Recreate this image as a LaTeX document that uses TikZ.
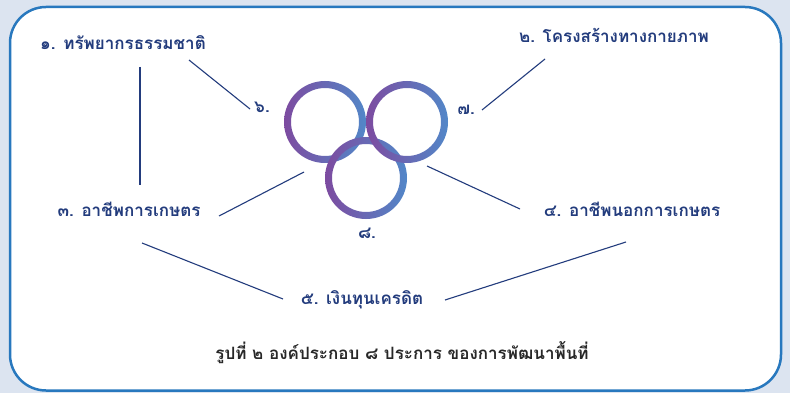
\documentclass[tikz,border=0pt]{standalone}
\usepackage{fontspec}
\newfontfamily\thaifont[Script=Thai]{Loma}
\usetikzlibrary{calc}
\definecolor{labelnavy}{RGB}{35,60,125}
\definecolor{frameblue}{RGB}{40,120,190}
\definecolor{pagebg}{RGB}{220,228,240}
\definecolor{ringpurple}{RGB}{125,75,160}
\definecolor{ringblue}{RGB}{82,135,200}
\definecolor{capgray}{RGB}{40,40,40}
\tikzset{
  item/.style    = {font=\thaifont\bfseries\fontsize{17}{19}\selectfont, text=labelnavy, inner sep=2pt, text height=14pt, text depth=5pt},
  num/.style     = {item},
  caption/.style = {item, text=capgray, font=\thaifont\bfseries\fontsize{17}{19}\selectfont},
  link/.style    = {draw=labelnavy, line width=1.1pt},
  ring/.style    = {left color=ringpurple, right color=ringblue, even odd rule},
}
\begin{document}
\begin{tikzpicture}[x=1pt,y=-1pt]
  \fill[pagebg] (0,0) rectangle (790,393);
  \draw[frameblue, line width=2.5pt, fill=white, rounded corners=36pt] (10,7) rectangle (781,390.5);

  % three rings
  \coordinate (ringL) at (325,122);
  \coordinate (ringR) at (407,122);
  \coordinate (ringB) at (366,178);
  \shade[ring] (ringL) circle[radius=41pt] (ringL) circle[radius=34pt];
  \shade[ring] (ringB) circle[radius=41pt] (ringB) circle[radius=34pt];
  \shade[ring] (ringR) circle[radius=41pt] (ringR) circle[radius=34pt];

  \node[item] (res)     at (123,45)  {๑. ทรัพยากรธรรมชาติ};
  \node[item] (infra)   at (614,38)  {๒. โครงสร้างทางกายภาพ};
  \node[item] (farm)    at (129,212) {๓. อาชีพการเกษตร};
  \node[item] (offfarm) at (632,212) {๔. อาชีพนอกการเกษตร};
  \node[item] (fund)    at (362,300) {๕. เงินทุนเครดิต};
  \node[num]  (six)     at (262,108) {๖.};
  \node[num]  (seven)   at (466,110) {๗.};
  \node[num]  (eight)   at (367,234) {๘.};
  \node[caption] (cap)  at (402,355) {รูปที่ ๒ องค์ประกอบ ๘ ประการ ของการพัฒนาพื้นที่};

  \draw[link] ([xshift=17pt,yshift=-22pt]res.center) -- ([xshift=11pt,yshift=27pt]farm.center);
  \draw[link] ([xshift=66pt,yshift=-15pt]res.center) -- ([xshift=-12pt,yshift=-1pt]six.center);
  \draw[link] ([xshift=16pt]seven.center) -- ([xshift=-69pt,yshift=-21pt]infra.center);
  \draw[link] ([xshift=90pt,yshift=-4pt]farm.center) -- ([xshift=-62pt,yshift=6pt]ringB);
  \draw[link] ([xshift=20pt,yshift=-44pt]ringR) -- ([xshift=-112pt,yshift=3pt]offfarm.center);
  \draw[link] ([xshift=13pt,yshift=-31pt]farm.center) -- ([xshift=-79pt,yshift=1pt]fund.center);
  \draw[link] ([xshift=83pt]fund.center) -- ([xshift=-6pt,yshift=-30pt]offfarm.center);
\end{tikzpicture}
\end{document}
